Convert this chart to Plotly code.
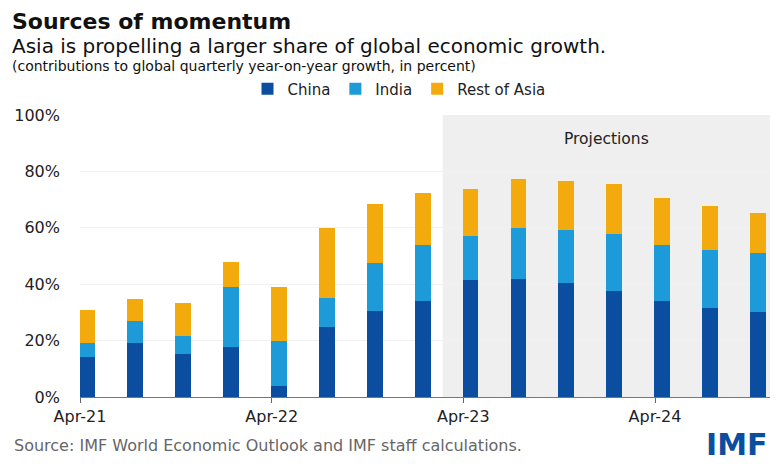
import plotly.graph_objects as go

quarters = ["Apr-21", "Jul-21", "Oct-21", "Jan-22", "Apr-22", "Jul-22", "Oct-22", "Jan-23",
            "Apr-23", "Jul-23", "Oct-23", "Jan-24", "Apr-24", "Jul-24", "Oct-24"]
china = [14.1, 19.2, 15.3, 17.9, 3.9, 24.9, 30.5, 34.1, 41.5, 41.7, 40.3, 37.6, 34.0, 31.6, 30.2]
india = [5.2, 7.7, 6.3, 21.1, 16.0, 10.3, 17.1, 19.8, 15.7, 18.4, 18.8, 20.1, 19.9, 20.4, 20.9]
rest_of_asia = [11.5, 7.7, 11.9, 9.0, 19.1, 24.8, 20.8, 18.6, 16.4, 17.2, 17.6, 17.9, 16.8, 15.9, 14.3]
tick_labels = ["Apr-21", "Apr-22", "Apr-23", "Apr-24"]
y_ticks = [0, 20, 40, 60, 80, 100]
y_tick_text = [f"{v}%" for v in y_ticks]

colors = {"China": "#0B4EA0", "India": "#1C9BD8", "Rest of Asia": "#F2AA0C"}

# page body has an 8px margin: figure is sized/offset to land on the 780x470 frame
OFF = 8
FW, FH = 780 - 2 * OFF, 470 - 2 * OFF
L, R, T, B = 80 - OFF, FW - (770 - OFF), 115 - OFF, FH - (396.7 - OFF)
PW, PH = FW - L - R, FH - T - B

def px(s):  # screen x -> paper x
    return (s - OFF - L) / PW

def py(s):  # screen y -> paper y
    return (T + PH - (s - OFF)) / PH

FONT = "DejaVu Sans, sans-serif"

x = list(range(len(quarters)))
fig = go.Figure()
for name, vals in [("China", china), ("India", india), ("Rest of Asia", rest_of_asia)]:
    fig.add_trace(go.Bar(x=x, y=vals, name=name, marker_color=colors[name],
                         marker_line_width=0, width=0.33))

tick_positions = [x[quarters.index(t)] - 0.15 for t in tick_labels]

fig.update_layout(
    barmode="stack",
    width=FW, height=FH,
    margin=dict(l=L, r=R, t=T, b=B, autoexpand=False),
    paper_bgcolor="white", plot_bgcolor="white",
    font=dict(family=FONT, color="#222222"),
    legend=dict(orientation="h", x=px(399), xanchor="center",
                y=py(89), yanchor="middle", font=dict(size=15, color="#222222"),
                traceorder="normal", itemclick=False, itemdoubleclick=False),
    xaxis=dict(range=[-0.15, 14.25], tickmode="array", tickvals=tick_positions,
               ticktext=tick_labels, ticks="outside", ticklen=5, tickcolor="#666666",
               showline=True, linecolor="#777777", linewidth=1.2, showgrid=False,
               zeroline=False, tickfont=dict(size=16, color="#222222")),
    yaxis=dict(range=[0, 100], tickmode="array", tickvals=y_ticks, ticktext=y_tick_text,
               showgrid=True, gridcolor="#f1f1f1", gridwidth=1, zeroline=False,
               tickfont=dict(size=16, color="#222222"), ticklabelstandoff=19),
    shapes=[dict(type="rect", xref="x", yref="y", x0=7.42, x1=14.25, y0=0, y1=100,
                 fillcolor="#efefef", line_width=0, layer="below")],
    annotations=[
        dict(text="Projections", xref="x", yref="paper", x=10.83, y=py(139), showarrow=False,
             yanchor="middle", font=dict(size=15.5, color="#222222")),
        dict(text="<b>Sources of momentum</b>", xref="paper", yref="paper", x=px(10), y=py(21.2),
             xanchor="left", yanchor="middle", showarrow=False,
             font=dict(family=FONT, size=22, color="#111111")),
        dict(text="Asia is propelling a larger share of global economic growth.", xref="paper",
             yref="paper", x=px(10), y=py(45.7), xanchor="left", yanchor="middle", showarrow=False,
             font=dict(family=FONT, size=20, color="#111111")),
        dict(text="(contributions to global quarterly year-on-year growth, in percent)",
             xref="paper", yref="paper", x=px(10), y=py(65.6), xanchor="left", yanchor="middle",
             showarrow=False, font=dict(family=FONT, size=14, color="#111111")),
        dict(text="Source: IMF World Economic Outlook and IMF staff calculations.", xref="paper",
             yref="paper", x=px(12), y=py(445), xanchor="left", yanchor="middle", showarrow=False,
             font=dict(family=FONT, size=16, color="#666666")),
        dict(text="<b>IMF</b>", xref="paper", yref="paper", x=px(770), y=py(444),
             xanchor="right", yanchor="middle", showarrow=False,
             font=dict(family=FONT, size=30, color="#0B4EA0")),
    ],
)

fig.write_html("out.html")
